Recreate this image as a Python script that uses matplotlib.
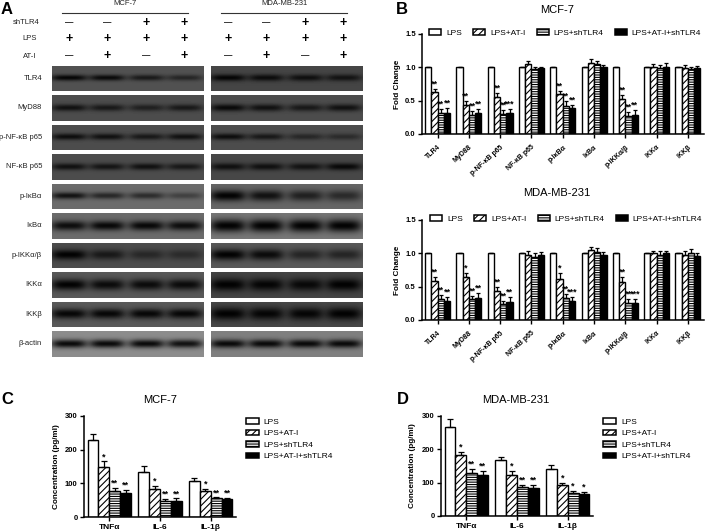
import numpy as np
import matplotlib
matplotlib.use("Agg")
import matplotlib.pyplot as plt
from matplotlib.patches import Patch

plt.rcParams['font.family'] = ['Liberation Sans', 'DejaVu Sans']
plt.rcParams['hatch.linewidth'] = 0.8

W, H = 708, 532

# ---- Panel A (western blot) ----
blot_proteins = ['TLR4', 'MyD88', 'p-NF-κB p65', 'NF-κB p65', 'p-IκBα', 'IκBα',
                 'p-IKKα/β', 'IKKα', 'IKKβ', 'β-actin']
blot_bg_mcf = [.32, .30, .30, .30, .42, .42, .30, .35, .35, .55]
blot_bg_mda = [.27, .30, .30, .28, .40, .47, .35, .27, .28, .50]
blot_sig_mcf = [3.0, 3.4, 3.2, 3.4, 3.4, 4.8, 5.0, 5.5, 5.0, 4.2]
blot_sig_mda = [3.4, 3.6, 3.2, 3.6, 5.4, 6.4, 5.5, 6.2, 6.2, 4.2]
blot_mcf = [[.95, .90, .70, .55], [.80, .70, .60, .70], [.85, .80, .70, .80],
            [.80, .75, .80, .70], [.85, .65, .60, .40], [.90, .95, .95, .90],
            [1.0, .70, .50, .45], [1.0, .90, .90, .90], [.95, .95, .95, .95],
            [.95, .95, .95, .90]]
blot_mda = [[.95, .85, .80, .75], [.90, .80, .70, .80], [.85, .70, .50, .45],
            [.80, .80, .75, .90], [1.0, .85, .70, .60], [1.0, 1.0, 1.0, 1.0],
            [1.0, .90, .60, .60], [1.0, .95, .90, 1.0], [1.0, .95, .95, 1.0],
            [.95, .95, .95, .95]]
sign_rows = ['shTLR4', 'LPS', 'AT-I']
sign_shtlr4 = ['—', '—', '+', '+']
sign_lps = ['+', '+', '+', '+']
sign_ati = ['—', '+', '—', '+']

# ---- Panel B ----
protein_names = ['TLR4', 'MyD88', 'p-NF-κB p65', 'NF-κB p65', 'p-IκBα', 'IκBα',
                 'p-IKKα/β', 'IKKα', 'IKKβ']
series_names = ['LPS', 'LPS+AT-I', 'LPS+shTLR4', 'LPS+AT-I+shTLR4']

b1_lps = [1.0] * 9
b1_ati = [.63, .43, .55, 1.05, .60, 1.07, .52, 1.00, .99]
b1_sh = [.31, .29, .30, .98, .42, 1.05, .27, .99, .97]
b1_both = [.32, .31, .32, .99, .39, 1.00, .29, 1.00, .99]
b1_lps_err = [0] * 9
b1_ati_err = [.04, .06, .06, .05, .05, .06, .06, .05, .04]
b1_sh_err = [.07, .05, .06, .03, .07, .04, .06, .04, .03]
b1_both_err = [.07, .07, .06, .02, .05, .03, .07, .06, .03]
b1_ati_sig = ['**', '**', '**', '', '**', '', '**', '', '']
b1_sh_sig = ['**', '**', '**', '', '**', '', '**', '', '']
b1_both_sig = ['**', '**', '***', '', '**', '', '**', '', '']

b2_lps = [1.0] * 9
b2_ati = [.58, .64, .43, .97, .61, 1.05, .57, 1.00, .98]
b2_sh = [.32, .31, .24, .94, .33, 1.02, .25, .98, 1.01]
b2_both = [.28, .33, .27, .97, .29, .98, .26, 1.00, .96]
b2_lps_err = [0] * 9
b2_ati_err = [.06, .06, .06, .06, .09, .05, .07, .04, .05]
b2_sh_err = [.06, .05, .04, .07, .06, .06, .06, .05, .05]
b2_both_err = [.06, .08, .07, .05, .05, .04, .06, .04, .05]
b2_ati_sig = ['**', '*', '**', '', '*', '', '**', '', '']
b2_sh_sig = ['**', '**', '**', '', '**', '', '**', '', '']
b2_both_sig = ['**', '**', '**', '', '***', '', '***', '', '']

# ---- Panels C, D ----
cytokines = ['TNFα', 'IL-6', 'IL-1β']
c_lps = [228, 135, 107]
c_ati = [150, 82, 78]
c_sh = [78, 47, 55]
c_both = [72, 49, 52]
c_lps_err = [18, 16, 9]
c_ati_err = [15, 10, 5]
c_sh_err = [8, 6, 3]
c_both_err = [7, 6, 5]
c_ati_sig = ['*', '*', '*']
c_sh_sig = ['**', '**', '**']
c_both_sig = ['**', '**', '**']

d_lps = [268, 167, 140]
d_ati = [182, 124, 93]
d_sh = [128, 88, 69]
d_both = [124, 85, 67]
d_lps_err = [23, 10, 14]
d_ati_err = [10, 10, 6]
d_sh_err = [12, 4, 5]
d_both_err = [10, 7, 6]
d_ati_sig = ['*', '*', '*']
d_sh_sig = ['**', '**', '*']
d_both_sig = ['**', '**', '*']

styles = [dict(facecolor='white', hatch=None),
          dict(facecolor='white', hatch='/////'),
          dict(facecolor='white', hatch='-------'),
          dict(facecolor='black', hatch=None)]

fig = plt.figure(figsize=(W / 100, H / 100), dpi=100)


def box(x0, y0, x1, y1):
    """Pixel box (top-left origin) to figure axes."""
    return fig.add_axes([x0 / W, 1 - y1 / H, (x1 - x0) / W, (y1 - y0) / H])


def ftext(x, y, s, **kw):
    kw.setdefault('ha', 'center')
    kw.setdefault('va', 'center')
    fig.text(x / W, 1 - y / H, s, **kw)


def blot_image(bg, strengths, sigma, w=152, h=26):
    xx, yy = np.meshgrid(np.arange(w), np.arange(h))
    img = np.full((h, w), float(bg))
    for frac, s in zip([.11, .36, .62, .87], strengths):
        cx = frac * w
        band = np.exp(-((xx - cx) / 18.0) ** 4) * np.exp(-((yy - h * .47) / sigma) ** 2)
        img = img * (1 - min(s, 1) * .97 * band)
    return img


row_top = 65.7
row_step = 29.5
for i, name in enumerate(blot_proteins):
    y0 = row_top + i * row_step
    for x0, bg, sg, st in ((52, blot_bg_mcf, blot_sig_mcf, blot_mcf),
                           (211, blot_bg_mda, blot_sig_mda, blot_mda)):
        ax = box(x0, y0, x0 + 152, y0 + 25.5)
        ax.imshow(blot_image(bg[i], st[i], sg[i]), cmap='gray', vmin=0, vmax=1,
                  aspect='auto', interpolation='bilinear')
        ax.set_xticks([])
        ax.set_yticks([])
        for sp in ax.spines.values():
            sp.set_visible(False)
    ftext(42, y0 + 12.5, name, ha='right', fontsize=5.5, color='#222222')

for label, y, signs in zip(sign_rows, (23, 39, 56), (sign_shtlr4, sign_lps, sign_ati)):
    ftext(30 if label != 'shTLR4' else 26, y, label, fontsize=5.5, color='#222222')
    for x, s in zip((69, 107, 146, 184, 228, 266, 305, 343), signs + signs):
        ftext(x, y, s, fontsize=6 if s == '—' else 9, fontweight='bold')

ftext(125, 3.8, 'MCF-7', fontsize=5.5, color='#222222')
ftext(284, 3.8, 'MDA-MB-231', fontsize=5.5, color='#222222')
for x0, x1 in ((62, 188), (221, 347)):
    fig.add_artist(plt.Line2D([x0 / W, x1 / W], [1 - 13 / H, 1 - 13 / H], color='#333333', lw=0.8))

for s, x, y in (('A', 6.5, 9), ('B', 402, 9), ('C', 7, 399), ('D', 403, 399)):
    ftext(x, y, s, fontsize=12, fontweight='bold')


def barpanel(rect, groups, vals, errs, sigs, ymax, yticks, ylabel, width, xrot, cap,
             star_off, xfs, lab_px):
    ax = box(*rect)
    x = np.arange(len(groups))
    for k in range(4):
        ax.bar(x + (k - 1.5) * width, vals[k], width, yerr=[np.zeros(len(groups)), errs[k]],
               edgecolor='black', linewidth=1.0, error_kw=dict(ecolor='black', elinewidth=0.9,
               capsize=cap, capthick=0.9), **styles[k])
    for k in (1, 2, 3):
        for j, s in enumerate(sigs[k - 1]):
            if s:
                ax.annotate(s, (j + (k - 1.5) * width, vals[k][j] + errs[k][j]),
                            xytext=(0, star_off), textcoords='offset points', ha='center',
                            va='center', fontsize=6.5, fontweight='bold')
    ax.set_xlim(-.5, len(groups) - .5)
    ax.set_ylim(0, ymax)
    ax.set_yticks(yticks)
    ax.set_xticks(x)
    if xrot:
        ax.set_xticklabels(groups, rotation=xrot, ha='right', rotation_mode='anchor',
                           fontsize=xfs, fontweight='bold')
    else:
        ax.set_xticklabels(groups, fontsize=xfs, fontweight='bold')
    ax.tick_params(axis='y', labelsize=5.5, width=1.0, length=3, pad=1.5)
    ax.tick_params(axis='x', width=1.0, length=3, pad=4 if xrot else 2)
    for lab in ax.get_yticklabels():
        lab.set_fontweight('bold')
    ax.set_ylabel(ylabel, fontsize=5.9, fontweight='bold')
    ax.yaxis.set_label_coords(lab_px / (rect[2] - rect[0]), .5)
    for sp in ('top', 'right'):
        ax.spines[sp].set_visible(False)
    for sp in ('left', 'bottom'):
        ax.spines[sp].set_linewidth(1.1)
    return ax


def handles():
    return [Patch(edgecolor='black', linewidth=1.1, label=n, **st)
            for n, st in zip(series_names, styles)]


bticks = [0, .5, 1, 1.5]
ax = barpanel((422, 34, 703.5, 134), protein_names,
              [b1_lps, b1_ati, b1_sh, b1_both], [b1_lps_err, b1_ati_err, b1_sh_err, b1_both_err],
              [b1_ati_sig, b1_sh_sig, b1_both_sig], 1.5, bticks, 'Fold Change', .2, 42, 1.5, 3.5, 5, -21)
ax.set_yticklabels(['0.0', '0.5', '1.0', '1.5'], fontweight='bold')
ftext(557, 10, 'MCF-7', fontsize=8)
fig.legend(handles=handles(), ncol=4, loc='center left', bbox_to_anchor=(429 / W, 1 - 33 / H),
           frameon=False, fontsize=6, handlelength=1.44, handleheight=0.7, handletextpad=.6,
           columnspacing=1.35, borderpad=0, borderaxespad=0)

ax = barpanel((422, 220, 703.5, 320), protein_names,
              [b2_lps, b2_ati, b2_sh, b2_both], [b2_lps_err, b2_ati_err, b2_sh_err, b2_both_err],
              [b2_ati_sig, b2_sh_sig, b2_both_sig], 1.5, bticks, 'Fold Change', .2, 42, 1.5, 3.5, 5, -21)
ax.set_yticklabels(['0.0', '0.5', '1.0', '1.5'], fontweight='bold')
ftext(557, 193, 'MDA-MB-231', fontsize=8)
fig.legend(handles=handles(), ncol=4, loc='center left', bbox_to_anchor=(430 / W, 1 - 219 / H),
           frameon=False, fontsize=6, handlelength=1.44, handleheight=0.7, handletextpad=.6,
           columnspacing=1.35, borderpad=0, borderaxespad=0)

cticks = [0, 100, 200, 300]
barpanel((84, 416, 236, 517), cytokines, [c_lps, c_ati, c_sh, c_both],
         [c_lps_err, c_ati_err, c_sh_err, c_both_err], [c_ati_sig, c_sh_sig, c_both_sig],
         300, cticks, 'Concentration (pg/ml)', .215, 0, 2.5, 3.5, 6, -24)
ftext(160, 400, 'MCF-7', fontsize=8)
fig.legend(handles=handles(), ncol=1, loc='upper left', bbox_to_anchor=(245.5 / W, 1 - 418 / H),
           frameon=False, fontsize=6, handlelength=1.56, handleheight=0.7, handletextpad=.6,
           labelspacing=.44, borderpad=0, borderaxespad=0)

barpanel((441, 416, 593, 516), cytokines, [d_lps, d_ati, d_sh, d_both],
         [d_lps_err, d_ati_err, d_sh_err, d_both_err], [d_ati_sig, d_sh_sig, d_both_sig],
         300, cticks, 'Concentration (pg/ml)', .215, 0, 2.5, 3.5, 6, -25)
ftext(516, 400, 'MDA-MB-231', fontsize=8)
fig.legend(handles=handles(), ncol=1, loc='upper left', bbox_to_anchor=(603 / W, 1 - 418 / H),
           frameon=False, fontsize=6, handlelength=1.56, handleheight=0.7, handletextpad=.6,
           labelspacing=.44, borderpad=0, borderaxespad=0)

fig.savefig('out.png', dpi=100)
